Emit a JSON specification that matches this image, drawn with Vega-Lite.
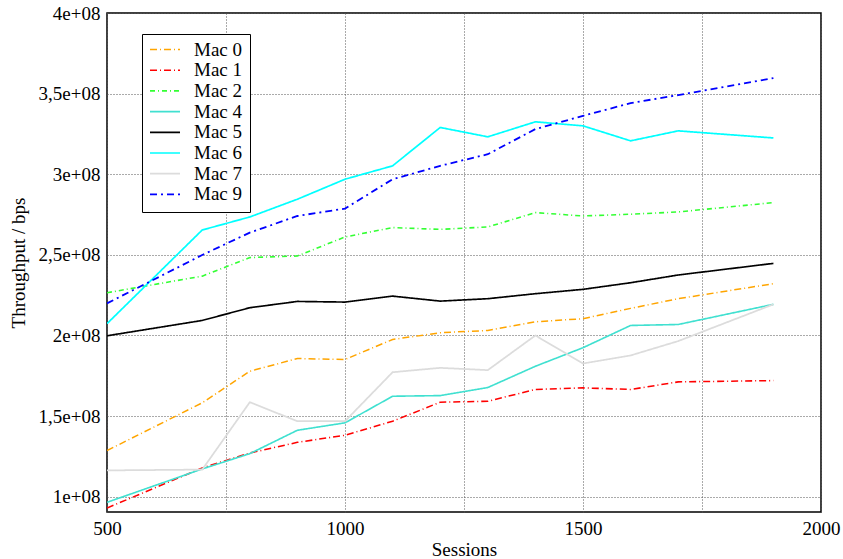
{
  "$schema": "https://vega.github.io/schema/vega-lite/v6.json",
  "width": 714,
  "height": 499,
  "autosize": "none",
  "padding": {"left": 107, "top": 13, "right": 22, "bottom": 47},
  "background": "white",
  "config": {
    "font": "Liberation Serif, Times New Roman, serif",
    "view": {"stroke": "black", "strokeWidth": 1.5},
    "axis": {
      "labelFont": "Liberation Serif, Times New Roman, serif",
      "titleFont": "Liberation Serif, Times New Roman, serif",
      "labelFontSize": 19,
      "titleFontSize": 19,
      "titleFontWeight": "normal",
      "labelColor": "black",
      "titleColor": "black",
      "labelFlush": false,
      "domain": false,
      "ticks": false,
      "grid": true,
      "gridColor": "#555555",
      "gridDash": [1, 2],
      "gridWidth": 1,
      "gridOpacity": 1
    },
    "legend": {
      "labelFont": "Liberation Serif, Times New Roman, serif",
      "labelFontSize": 19,
      "labelColor": "black"
    }
  },
  "data": {
    "values": [
      {"Sessions": 500, "Throughput": 128600000, "Mac": "Mac 0"},
      {"Sessions": 700, "Throughput": 158200000, "Mac": "Mac 0"},
      {"Sessions": 800, "Throughput": 177800000, "Mac": "Mac 0"},
      {"Sessions": 900, "Throughput": 185700000, "Mac": "Mac 0"},
      {"Sessions": 1000, "Throughput": 185100000, "Mac": "Mac 0"},
      {"Sessions": 1100, "Throughput": 197500000, "Mac": "Mac 0"},
      {"Sessions": 1200, "Throughput": 201700000, "Mac": "Mac 0"},
      {"Sessions": 1300, "Throughput": 203100000, "Mac": "Mac 0"},
      {"Sessions": 1400, "Throughput": 208500000, "Mac": "Mac 0"},
      {"Sessions": 1500, "Throughput": 210400000, "Mac": "Mac 0"},
      {"Sessions": 1600, "Throughput": 216800000, "Mac": "Mac 0"},
      {"Sessions": 1700, "Throughput": 222800000, "Mac": "Mac 0"},
      {"Sessions": 1900, "Throughput": 232100000, "Mac": "Mac 0"},

      {"Sessions": 500, "Throughput": 93000000, "Mac": "Mac 1"},
      {"Sessions": 700, "Throughput": 117800000, "Mac": "Mac 1"},
      {"Sessions": 800, "Throughput": 127100000, "Mac": "Mac 1"},
      {"Sessions": 900, "Throughput": 133700000, "Mac": "Mac 1"},
      {"Sessions": 1000, "Throughput": 138100000, "Mac": "Mac 1"},
      {"Sessions": 1100, "Throughput": 146800000, "Mac": "Mac 1"},
      {"Sessions": 1200, "Throughput": 158600000, "Mac": "Mac 1"},
      {"Sessions": 1300, "Throughput": 159200000, "Mac": "Mac 1"},
      {"Sessions": 1400, "Throughput": 166500000, "Mac": "Mac 1"},
      {"Sessions": 1500, "Throughput": 167500000, "Mac": "Mac 1"},
      {"Sessions": 1600, "Throughput": 166500000, "Mac": "Mac 1"},
      {"Sessions": 1700, "Throughput": 171200000, "Mac": "Mac 1"},
      {"Sessions": 1900, "Throughput": 172000000, "Mac": "Mac 1"},

      {"Sessions": 500, "Throughput": 226500000, "Mac": "Mac 2"},
      {"Sessions": 700, "Throughput": 236800000, "Mac": "Mac 2"},
      {"Sessions": 800, "Throughput": 248300000, "Mac": "Mac 2"},
      {"Sessions": 900, "Throughput": 249300000, "Mac": "Mac 2"},
      {"Sessions": 1000, "Throughput": 261100000, "Mac": "Mac 2"},
      {"Sessions": 1100, "Throughput": 266900000, "Mac": "Mac 2"},
      {"Sessions": 1200, "Throughput": 265800000, "Mac": "Mac 2"},
      {"Sessions": 1300, "Throughput": 267300000, "Mac": "Mac 2"},
      {"Sessions": 1400, "Throughput": 276200000, "Mac": "Mac 2"},
      {"Sessions": 1500, "Throughput": 274100000, "Mac": "Mac 2"},
      {"Sessions": 1600, "Throughput": 275200000, "Mac": "Mac 2"},
      {"Sessions": 1700, "Throughput": 276600000, "Mac": "Mac 2"},
      {"Sessions": 1900, "Throughput": 282400000, "Mac": "Mac 2"},

      {"Sessions": 500, "Throughput": 96500000, "Mac": "Mac 4"},
      {"Sessions": 700, "Throughput": 117200000, "Mac": "Mac 4"},
      {"Sessions": 800, "Throughput": 126700000, "Mac": "Mac 4"},
      {"Sessions": 900, "Throughput": 141200000, "Mac": "Mac 4"},
      {"Sessions": 1000, "Throughput": 145800000, "Mac": "Mac 4"},
      {"Sessions": 1100, "Throughput": 162300000, "Mac": "Mac 4"},
      {"Sessions": 1200, "Throughput": 162700000, "Mac": "Mac 4"},
      {"Sessions": 1300, "Throughput": 167700000, "Mac": "Mac 4"},
      {"Sessions": 1400, "Throughput": 180900000, "Mac": "Mac 4"},
      {"Sessions": 1500, "Throughput": 192400000, "Mac": "Mac 4"},
      {"Sessions": 1600, "Throughput": 206200000, "Mac": "Mac 4"},
      {"Sessions": 1700, "Throughput": 206800000, "Mac": "Mac 4"},
      {"Sessions": 1900, "Throughput": 219300000, "Mac": "Mac 4"},

      {"Sessions": 500, "Throughput": 199800000, "Mac": "Mac 5"},
      {"Sessions": 700, "Throughput": 209300000, "Mac": "Mac 5"},
      {"Sessions": 800, "Throughput": 217200000, "Mac": "Mac 5"},
      {"Sessions": 900, "Throughput": 221100000, "Mac": "Mac 5"},
      {"Sessions": 1000, "Throughput": 220700000, "Mac": "Mac 5"},
      {"Sessions": 1100, "Throughput": 224400000, "Mac": "Mac 5"},
      {"Sessions": 1200, "Throughput": 221300000, "Mac": "Mac 5"},
      {"Sessions": 1300, "Throughput": 222800000, "Mac": "Mac 5"},
      {"Sessions": 1400, "Throughput": 225900000, "Mac": "Mac 5"},
      {"Sessions": 1500, "Throughput": 228600000, "Mac": "Mac 5"},
      {"Sessions": 1600, "Throughput": 232700000, "Mac": "Mac 5"},
      {"Sessions": 1700, "Throughput": 237500000, "Mac": "Mac 5"},
      {"Sessions": 1900, "Throughput": 244700000, "Mac": "Mac 5"},

      {"Sessions": 500, "Throughput": 207300000, "Mac": "Mac 6"},
      {"Sessions": 700, "Throughput": 265400000, "Mac": "Mac 6"},
      {"Sessions": 800, "Throughput": 273500000, "Mac": "Mac 6"},
      {"Sessions": 900, "Throughput": 284500000, "Mac": "Mac 6"},
      {"Sessions": 1000, "Throughput": 296900000, "Mac": "Mac 6"},
      {"Sessions": 1100, "Throughput": 305200000, "Mac": "Mac 6"},
      {"Sessions": 1200, "Throughput": 329000000, "Mac": "Mac 6"},
      {"Sessions": 1300, "Throughput": 323200000, "Mac": "Mac 6"},
      {"Sessions": 1400, "Throughput": 332500000, "Mac": "Mac 6"},
      {"Sessions": 1500, "Throughput": 330000000, "Mac": "Mac 6"},
      {"Sessions": 1600, "Throughput": 320700000, "Mac": "Mac 6"},
      {"Sessions": 1700, "Throughput": 326900000, "Mac": "Mac 6"},
      {"Sessions": 1900, "Throughput": 322500000, "Mac": "Mac 6"},

      {"Sessions": 500, "Throughput": 116300000, "Mac": "Mac 7"},
      {"Sessions": 700, "Throughput": 116800000, "Mac": "Mac 7"},
      {"Sessions": 800, "Throughput": 158600000, "Mac": "Mac 7"},
      {"Sessions": 900, "Throughput": 146800000, "Mac": "Mac 7"},
      {"Sessions": 1000, "Throughput": 146800000, "Mac": "Mac 7"},
      {"Sessions": 1100, "Throughput": 177200000, "Mac": "Mac 7"},
      {"Sessions": 1200, "Throughput": 179900000, "Mac": "Mac 7"},
      {"Sessions": 1300, "Throughput": 178500000, "Mac": "Mac 7"},
      {"Sessions": 1400, "Throughput": 200000000, "Mac": "Mac 7"},
      {"Sessions": 1500, "Throughput": 182600000, "Mac": "Mac 7"},
      {"Sessions": 1600, "Throughput": 187600000, "Mac": "Mac 7"},
      {"Sessions": 1700, "Throughput": 196500000, "Mac": "Mac 7"},
      {"Sessions": 1900, "Throughput": 219300000, "Mac": "Mac 7"},

      {"Sessions": 500, "Throughput": 219900000, "Mac": "Mac 9"},
      {"Sessions": 700, "Throughput": 249900000, "Mac": "Mac 9"},
      {"Sessions": 800, "Throughput": 263800000, "Mac": "Mac 9"},
      {"Sessions": 900, "Throughput": 274100000, "Mac": "Mac 9"},
      {"Sessions": 1000, "Throughput": 278700000, "Mac": "Mac 9"},
      {"Sessions": 1100, "Throughput": 296900000, "Mac": "Mac 9"},
      {"Sessions": 1200, "Throughput": 305200000, "Mac": "Mac 9"},
      {"Sessions": 1300, "Throughput": 312400000, "Mac": "Mac 9"},
      {"Sessions": 1400, "Throughput": 328000000, "Mac": "Mac 9"},
      {"Sessions": 1500, "Throughput": 336200000, "Mac": "Mac 9"},
      {"Sessions": 1600, "Throughput": 344100000, "Mac": "Mac 9"},
      {"Sessions": 1700, "Throughput": 349100000, "Mac": "Mac 9"},
      {"Sessions": 1900, "Throughput": 359600000, "Mac": "Mac 9"}
    ]
  },
  "mark": {"type": "line", "clip": true},
  "encoding": {
    "x": {
      "field": "Sessions",
      "type": "quantitative",
      "scale": {"domain": [500, 2000], "nice": false, "zero": false},
      "axis": {
        "title": "Sessions",
        "values": [500, 750, 1000, 1250, 1500, 1750, 2000],
        "format": "d",
        "labelExpr": "datum.value % 500 == 0 ? datum.label : ''",
        "labelPadding": 7,
        "titlePadding": 2
      }
    },
    "y": {
      "field": "Throughput",
      "type": "quantitative",
      "scale": {"domain": [90500000, 400000000], "nice": false, "zero": false},
      "axis": {
        "title": "Throughput / bps",
        "values": [100000000, 150000000, 200000000, 250000000, 300000000, 350000000, 400000000],
        "labelExpr": "replace(format(datum.value / 100000000, '.2~f'), '.', ',') + 'e+08'",
        "labelPadding": 7,
        "titlePadding": 10
      }
    },
    "strokeWidth": {
      "field": "Mac",
      "type": "nominal",
      "scale": {
        "domain": ["Mac 0", "Mac 1", "Mac 2", "Mac 4", "Mac 5", "Mac 6", "Mac 7", "Mac 9"],
        "range": [1.5, 1.8, 1.3, 1.6, 1.6, 1.7, 1.6, 2.2]
      },
      "legend": null
    },
    "color": {
      "field": "Mac",
      "type": "nominal",
      "scale": {
        "domain": ["Mac 0", "Mac 1", "Mac 2", "Mac 4", "Mac 5", "Mac 6", "Mac 7", "Mac 9"],
        "range": ["#FFA500", "#FF0000", "#33FF33", "#40E0D0", "#000000", "#00FFFF", "#DCDCDC", "#0000FF"]
      },
      "legend": {
        "title": null,
        "orient": "none",
        "legendX": 35,
        "legendY": 21,
        "strokeColor": "black",
        "fillColor": "white",
        "padding": 7,
        "symbolType": "stroke",
        "symbolSize": 900,
        "symbolStrokeWidth": 1.8,
        "clipHeight": 17,
        "labelOffset": 13,
        "rowPadding": 0.7
      }
    },
    "strokeDash": {
      "field": "Mac",
      "type": "nominal",
      "scale": {
        "domain": ["Mac 0", "Mac 1", "Mac 2", "Mac 4", "Mac 5", "Mac 6", "Mac 7", "Mac 9"],
        "range": [[7, 3, 1, 3], [7, 3, 1, 3], [5, 3, 1, 3], [1, 0], [1, 0], [1, 0], [1, 0], [7, 4, 2, 4]]
      },
      "legend": {
        "title": null,
        "orient": "none",
        "legendX": 35,
        "legendY": 21,
        "strokeColor": "black",
        "fillColor": "white",
        "padding": 7,
        "symbolType": "stroke",
        "symbolSize": 900,
        "symbolStrokeWidth": 1.8,
        "clipHeight": 17,
        "labelOffset": 13,
        "rowPadding": 0.7
      }
    }
  }
}
